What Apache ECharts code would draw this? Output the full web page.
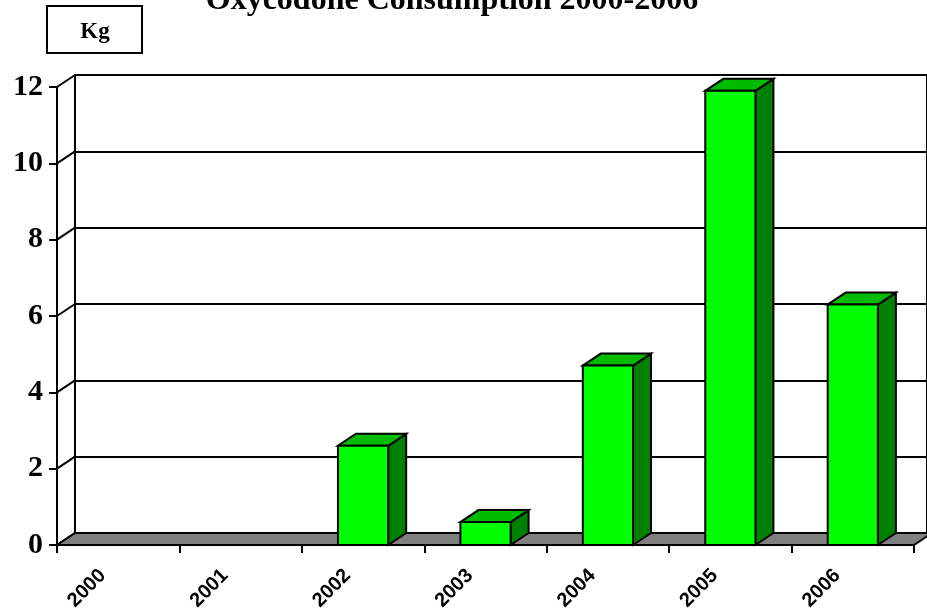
<!DOCTYPE html>
<html>
<head>
<meta charset="utf-8">
<script src="https://cdn.jsdelivr.net/npm/echarts@6/dist/echarts.min.js"></script>
<style>
  html, body { margin: 0; padding: 0; background: #fff; }
  #chart { width: 927px; height: 614px; }
</style>
</head>
<body>
<div id="chart"></div>
<script>
// ---- data ----
const titleText = 'Oxycodone Consumption 2000-2006';
const unitText = 'Kg';
const years = ['2000', '2001', '2002', '2003', '2004', '2005', '2006'];
const consumptionKg = [0, 0, 2.6, 0.6, 4.7, 11.9, 6.3];
const yMin = 0;
const yMax = 12;
const yStep = 2;

// ---- 3D depth offset (style) ----
const DX = 18, DY = -12;

const chart = echarts.init(document.getElementById('chart'), null, { renderer: 'canvas' });

function renderFloor(params, api) {
  const cs = params.coordSys;
  const y0 = api.coord([0, yMin])[1];
  const xL = cs.x, xR = cs.x + cs.width;
  const children = [];
  for (let t = yMin; t <= yMax; t += yStep) {
    const y = api.coord([0, t])[1];
    children.push({
      type: 'line',
      shape: { x1: xL, y1: y, x2: xL + DX, y2: y + DY },
      style: { stroke: '#000', lineWidth: 2 }
    });
  }
  children.push({
    type: 'polygon',
    shape: { points: [[xL, y0], [xR, y0], [xR + DX, y0 + DY], [xL + DX, y0 + DY]] },
    style: { fill: '#808080', stroke: '#000', lineWidth: 2, lineJoin: 'miter' }
  });
  return { type: 'group', children };
}

function renderBar(params, api) {
  const v = api.value(1);
  if (!v) return null;
  const base = api.coord([api.value(0), 0]);
  const top = api.coord([api.value(0), v]);
  const bw = api.size([1, 0])[0] * 0.41;
  const x0 = base[0] - bw / 2, x1 = base[0] + bw / 2;
  const y0 = base[1], y1 = top[1];
  return {
    type: 'group',
    children: [
      {
        type: 'polygon',
        shape: { points: [[x1, y1], [x1 + DX, y1 + DY], [x1 + DX, y0 + DY], [x1, y0]] },
        style: { fill: '#008000', stroke: '#000', lineWidth: 2, lineJoin: 'miter' }
      },
      {
        type: 'polygon',
        shape: { points: [[x0, y1], [x1, y1], [x1 + DX, y1 + DY], [x0 + DX, y1 + DY]] },
        style: { fill: '#00BB00', stroke: '#000', lineWidth: 2, lineJoin: 'miter' }
      },
      {
        type: 'rect',
        shape: { x: x0, y: y1, width: bw, height: y0 - y1 },
        style: { fill: '#00FF00', stroke: '#000', lineWidth: 2 }
      }
    ]
  };
}

const option = {
  backgroundColor: '#ffffff',
  animation: false,
  graphic: [
    {
      type: 'text', x: 452, y: 1,
      style: {
        text: titleText, fill: '#000',
        font: 'bold 32px "Liberation Serif", "Times New Roman", serif',
        textAlign: 'center', textVerticalAlign: 'middle'
      }
    },
    {
      type: 'rect', shape: { x: 47, y: 6, width: 95, height: 47 },
      style: { fill: '#fff', stroke: '#000', lineWidth: 2 }
    },
    {
      type: 'text', x: 95, y: 32,
      style: {
        text: unitText, fill: '#000',
        font: 'bold 23px "Liberation Serif", "Times New Roman", serif',
        textAlign: 'center', textVerticalAlign: 'middle'
      }
    }
  ],
  grid: [
    { left: 57, top: 87, width: 857, height: 458 },
    { left: 75, top: 75, width: 880, height: 458, show: true, borderColor: '#000', borderWidth: 2, backgroundColor: 'transparent' }
  ],
  xAxis: [
    {
      type: 'category', gridIndex: 0, data: years, boundaryGap: true,
      axisLine: { show: true, lineStyle: { color: '#000', width: 2 } },
      axisTick: { show: true, length: 8, inside: false, alignWithLabel: false, lineStyle: { color: '#000', width: 2 } },
      axisLabel: {
        rotate: 45, interval: 0, margin: 12, padding: [0, 22, 0, 0],
        color: '#000', fontSize: 20, fontWeight: 'bold',
        fontFamily: '"Liberation Sans", Arial, sans-serif'
      },
      splitLine: { show: false }
    },
    { type: 'category', gridIndex: 1, data: years, show: false }
  ],
  yAxis: [
    {
      type: 'value', gridIndex: 0, min: yMin, max: yMax, interval: yStep,
      axisLine: { show: true, lineStyle: { color: '#000', width: 2 } },
      axisTick: { show: true, length: 8, inside: false, lineStyle: { color: '#000', width: 2 } },
      axisLabel: {
        margin: 14, color: '#000', fontSize: 30, fontWeight: 'bold', padding: [6, 0, 0, 0],
        fontFamily: '"Liberation Serif", "Times New Roman", serif'
      },
      splitLine: { show: false }
    },
    {
      type: 'value', gridIndex: 1, min: yMin, max: yMax, interval: yStep,
      axisLine: { show: false }, axisTick: { show: false }, axisLabel: { show: false },
      splitLine: { show: true, lineStyle: { color: '#000', width: 2 } }
    }
  ],
  series: [
    {
      type: 'custom', xAxisIndex: 0, yAxisIndex: 0, clip: false, z: 3,
      renderItem: renderFloor, data: [[0, 0]], silent: true
    },
    {
      type: 'custom', xAxisIndex: 0, yAxisIndex: 0, clip: false, z: 4,
      renderItem: renderBar,
      data: consumptionKg.map((v, i) => [i, v])
    }
  ]
};

chart.setOption(option);
</script>
</body>
</html>
